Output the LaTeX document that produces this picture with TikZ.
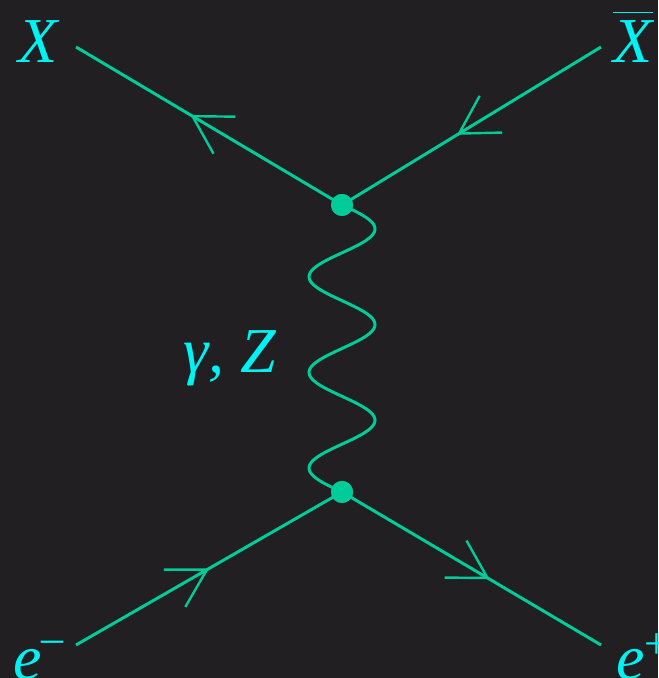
\documentclass[tikz,border=0pt]{standalone}
\usepackage{fontspec}
\setmainfont{Liberation Serif}
\usetikzlibrary{arrows.meta,decorations.markings,calc}
\definecolor{bgdark}{HTML}{221F23}
\definecolor{lgreen}{HTML}{00CC99}
\definecolor{lcyan}{HTML}{00F2F2}
\begin{document}
\begin{tikzpicture}[x=0.5pt,y=0.5pt,
    fermion/.style={draw=lgreen,line width=1.5pt,postaction={decorate},
      decoration={markings,mark=at position #1 with
        {\arrow{Straight Barb[angle=60:21.5pt,line width=1.2pt]}}}},
    photon/.style={draw=lgreen,line width=1.5pt},
    vtx/.style={circle,fill=lgreen,inner sep=0pt,minimum size=11pt},
    lbl/.style={text=lcyan,font=\fontsize{32}{38}\selectfont\itshape},
    sup/.style={font=\fontsize{22}{26}\selectfont\upshape}]
  \path[use as bounding box,fill=bgdark] (0,0) rectangle (658,678);
  % vertices
  \node[vtx] (v1) at (342,473) {};
  \node[vtx] (v2) at (342,186) {};
  % outer ends of the fermion lines
  \coordinate (pX) at (76,631);
  \coordinate (pXb) at (601,631);
  \coordinate (pem) at (76,33);
  \coordinate (pep) at (601,33);
  % labels
  \node[lbl,anchor=base] (lX) at (38,615) {X};
  \node[lbl,anchor=base] (lXb) at (633,615)
    {$\overline{\hbox{\itshape X\rule{0pt}{24pt}}}$};
  \node[lbl,anchor=base west,inner sep=0pt] (lem) at (13,-2)
    {e\raisebox{14pt}{\fontsize{22}{26}\selectfont\upshape –}};
  \node[lbl,anchor=base west,inner sep=0pt] (lep) at (616,-2)
    {e\raisebox{11pt}{\fontsize{22}{26}\selectfont\upshape +}};
  \node[lbl,anchor=base] (lgz) at (230,305) {γ, Z};
  % lines
  \draw[fermion=0.57] (v1.center) -- (pX);
  \draw[fermion=0.556] (pXb) -- (v1.center);
  \draw[fermion=0.5] (pem) -- (v2.center);
  \draw[fermion=0.57] (v2.center) -- (pep);
  \draw[photon] let \p1=(v1.center), \p2=(v2.center), \n1={\y1-\y2} in
    plot[variable=\t,domain=0:1,samples=150,smooth]
      ({\x1+16.5pt*sin(3*360*\t)},{\y1-\t*\n1});
  \node[vtx] at (v1) {};
  \node[vtx] at (v2) {};
\end{tikzpicture}
\end{document}
